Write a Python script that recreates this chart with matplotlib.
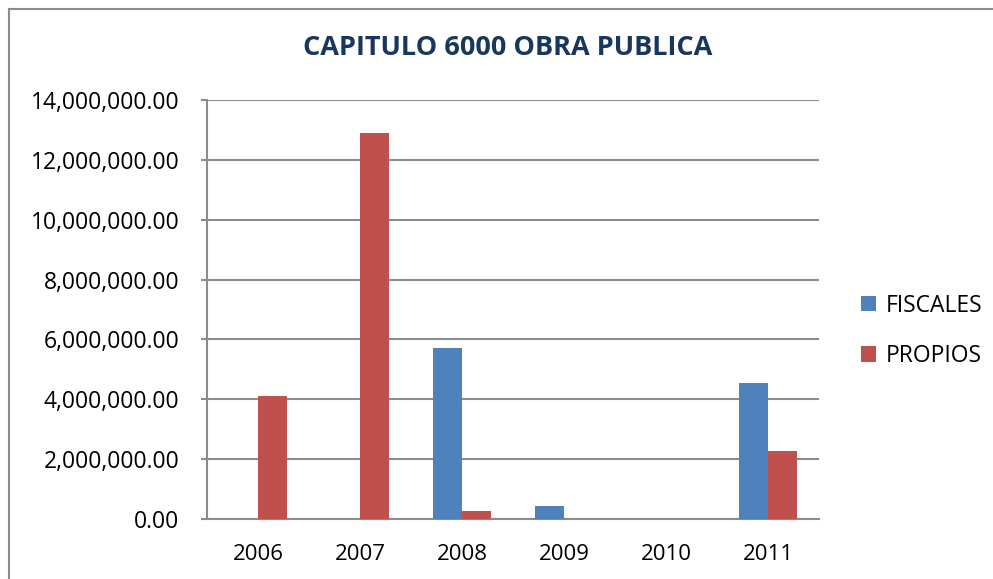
import numpy as np
import matplotlib
matplotlib.use("Agg")
import matplotlib.pyplot as plt
from matplotlib.ticker import FuncFormatter

# Data
years = ["2006", "2007", "2008", "2009", "2010", "2011"]
fiscales = [0, 0, 5720000, 440000, 0, 4530000]
propios = [4110000, 12890000, 280000, 0, 0, 2280000]

blue = "#4F81BD"
red = "#C0504D"
grid_color = "#8C8C8C"

plt.rcParams['font.family'] = ['Open Sans', 'DejaVu Sans']

fig = plt.figure(figsize=(9.93, 5.79), dpi=100)
ax = fig.add_axes([207/993, 1 - 519/579, 612/993, 419/579])

x = np.arange(len(years))
w = 1 / 3.5  # Excel gap width 150%
ax.bar(x - w/2, fiscales, w, color=blue, label="FISCALES", zorder=3)
ax.bar(x + w/2, propios, w, color=red, label="PROPIOS", zorder=3)

ax.set_xlim(-0.5, len(years) - 0.5)
ax.set_ylim(0, 14000000)
ax.set_yticks(np.arange(0, 14000001, 2000000))
ax.yaxis.set_major_formatter(FuncFormatter(lambda v, p: f"{v:,.2f}"))
ax.set_xticks(x)
ax.set_xticklabels(years)

ax.grid(axis="y", color=grid_color, linewidth=1.5, zorder=0)
for s in ["top", "right"]:
    ax.spines[s].set_visible(False)
ax.spines["left"].set_color(grid_color)
ax.spines["bottom"].set_color(grid_color)
ax.spines["left"].set_linewidth(1.5)
ax.spines["bottom"].set_linewidth(1.5)
ax.tick_params(axis="y", length=4, color=grid_color, width=1.5, labelsize=16.5, pad=16)
ax.tick_params(axis="x", length=0, labelsize=16, pad=18)

fig.text(508/993, 1 - 48/579, "CAPITULO 6000 OBRA PUBLICA", ha="center", va="center",
         fontsize=19.5, fontweight="bold", color="#17375E")

ax.legend(loc="center left", bbox_to_anchor=(840/993, 1 - 331/579),
          bbox_transform=fig.transFigure, frameon=False, fontsize=16.5,
          handlelength=0.65, handleheight=0.65, labelspacing=1.15, handletextpad=0.45)

# chart border
fig.add_artist(plt.Line2D([9/993, 9/993], [0, 1 - 9/579], color=grid_color, linewidth=1.5))
fig.add_artist(plt.Line2D([9/993, 1], [1 - 9/579, 1 - 9/579], color=grid_color, linewidth=1.5))

fig.savefig("out.png", dpi=100)
